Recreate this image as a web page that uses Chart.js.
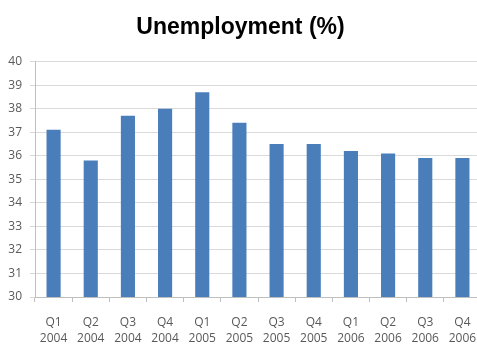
<!DOCTYPE html>
<html>
<head>
<meta charset="utf-8">
<script src="https://cdn.jsdelivr.net/npm/chart.js@4/dist/chart.umd.min.js"></script>
<style>
  html, body { margin: 0; padding: 0; background: #fff; overflow: hidden; }
  #wrap { width: 490px; height: 344px; position: relative; }
</style>
</head>
<body>
<div id="wrap"><canvas id="c" width="490" height="344"></canvas></div>
<script>
const quarters = ["Q1", "Q2", "Q3", "Q4", "Q1", "Q2", "Q3", "Q4", "Q1", "Q2", "Q3", "Q4"];
const years = ["2004", "2004", "2004", "2004", "2005", "2005", "2005", "2005", "2006", "2006", "2006", "2006"];
const unemployment = [37.1, 35.8, 37.7, 38.0, 38.7, 37.4, 36.5, 36.5, 36.2, 36.1, 35.9, 35.9];
const yTicks = [30, 31, 32, 33, 34, 35, 36, 37, 38, 39, 40];

const labels = quarters.map((q, i) => [q, years[i]]);

new Chart(document.getElementById('c'), {
  type: 'bar',
  data: {
    labels: labels,
    datasets: [{
      label: 'Unemployment (%)',
      data: unemployment,
      backgroundColor: '#4a7ebb',
      borderWidth: 0,
      barPercentage: 0.38,
      categoryPercentage: 1.0
    }]
  },
  options: {
    responsive: false,
    animation: false,
    layout: { padding: { left: 0, right: 9, top: 0, bottom: 0 } },
    plugins: {
      legend: { display: false },
      tooltip: { enabled: false },
      title: {
        display: true,
        text: 'Unemployment (%)',
        color: '#000',
        font: { family: "'Liberation Sans', Arial, sans-serif", size: 23, weight: 'bold' },
        padding: { top: 14, bottom: 20 }
      }
    },
    scales: {
      x: {
        grid: { display: true, drawOnChartArea: false, drawTicks: true, tickLength: 5, color: '#bfbfbf', offset: true },
        border: { display: true, color: '#bfbfbf' },
        ticks: {
          color: '#595959',
          font: { family: "'Open Sans', sans-serif", size: 12, lineHeight: 1.35 },
          padding: 12,
          maxRotation: 0,
          autoSkip: false
        },
        afterFit: (s) => { s.height = 47; }
      },
      y: {
        min: 30,
        max: 40,
        afterBuildTicks: (s) => { s.ticks = yTicks.map(v => ({ value: v })); },
        grid: { color: '#d9d9d9', tickLength: 5, lineWidth: 1 },
        border: { display: true, color: '#bfbfbf' },
        ticks: {
          color: '#595959',
          font: { family: "'Open Sans', sans-serif", size: 12 },
          padding: 8
        },
        afterFit: (s) => { s.width = 35; }
      }
    }
  }
});
</script>
</body>
</html>
